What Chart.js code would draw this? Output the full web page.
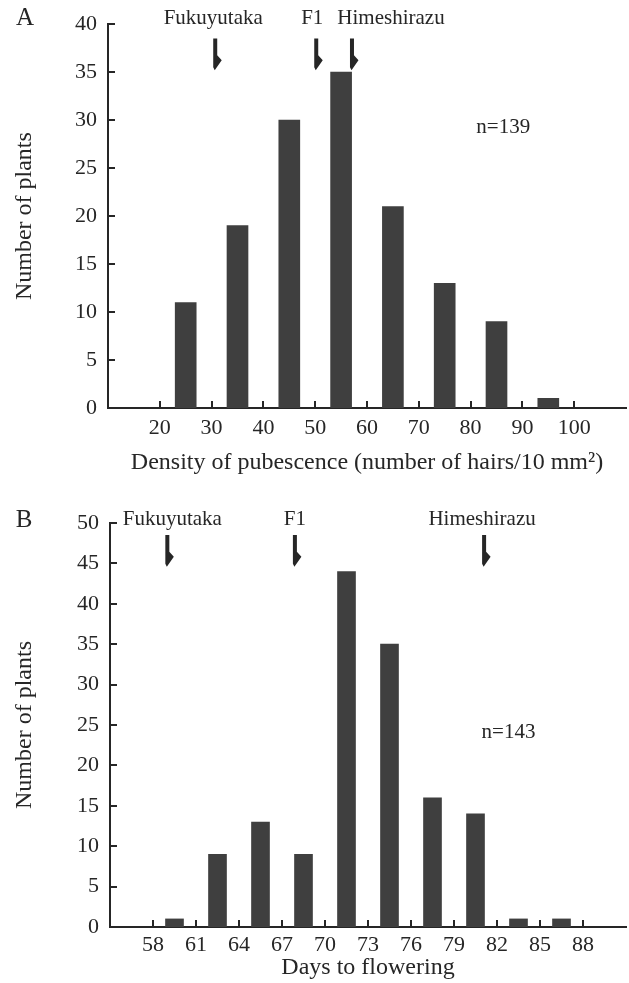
<!DOCTYPE html>
<html>
<head>
<meta charset="utf-8">
<script src="https://cdn.jsdelivr.net/npm/chart.js@4.4.1/dist/chart.umd.min.js"></script>
<style>
  html, body { margin: 0; padding: 0; background: #fff; }
  body { width: 629px; height: 983px; position: relative; overflow: hidden; }
  .panel { position: absolute; left: 0; width: 629px; }
  #wrapA { top: 0; height: 490px; }
  #wrapB { top: 490px; height: 493px; }
</style>
</head>
<body>
<div class="panel" id="wrapA"><canvas id="chartA"></canvas></div>
<div class="panel" id="wrapB"><canvas id="chartB"></canvas></div>
<script>
// --- A: densidad de pubescencia ---
const pubBins    = [25, 35, 45, 55, 65, 75, 85, 95];
const pubCounts  = [11, 19, 30, 35, 21, 13, 9, 1];
const pubTicks   = [20, 30, 40, 50, 60, 70, 80, 90, 100];
const pubParents = ['Fukuyutaka', 'F1', 'Himeshirazu'];
const pubParentValues = [30.7, 50.2, 57.1];
const pubN = 'n=139';

// --- B: días a floración ---
const dayBins    = [59.5, 62.5, 65.5, 68.5, 71.5, 74.5, 77.5, 80.5, 83.5, 86.5];
const dayCounts  = [1, 9, 13, 9, 44, 35, 16, 14, 1, 1];
const dayTicks   = [58, 61, 64, 67, 70, 73, 76, 79, 82, 85, 88];
const dayParents = ['Fukuyutaka', 'F1', 'Himeshirazu'];
const dayParentValues = [59.0, 67.9, 81.1];
const dayN = 'n=143';

const ink = '#262626';
const barFill = '#3f3f3f';
const serif = '"Liberation Serif", "DejaVu Serif", serif';

// ticks hacia adentro, flechas de los padres y textos sueltos
const marks = {
  id: 'marks',
  afterDraw(chart, args, o) {
    const { ctx, chartArea: a, scales: { x, y } } = chart;
    ctx.save();
    ctx.strokeStyle = ink;
    ctx.lineWidth = 2;
    ctx.beginPath();
    y.ticks.forEach(t => {
      const py = Math.round(y.getPixelForValue(t.value));
      ctx.moveTo(a.left, py); ctx.lineTo(a.left + 7, py);
    });
    x.ticks.forEach(t => {
      const px = Math.round(x.getPixelForValue(t.value));
      ctx.moveTo(px, a.bottom); ctx.lineTo(px, a.bottom - 7);
    });
    ctx.stroke();

    ctx.fillStyle = ink;
    const top = y.getPixelForValue(o.arrowTop);
    const tip = y.getPixelForValue(o.arrowTip);
    o.values.forEach(v => {
      const px = x.getPixelForValue(v);
      ctx.beginPath();
      ctx.moveTo(px - 2, top);
      ctx.lineTo(px + 2, top);
      ctx.lineTo(px + 2, tip - 14);
      ctx.lineTo(px + 6.5, tip - 9);
      ctx.lineTo(px - 0.5, tip + 1);
      ctx.lineTo(px - 2, tip - 2);
      ctx.closePath();
      ctx.fill();
    });

    ctx.font = '21px ' + serif;
    ctx.textAlign = 'center';
    ctx.textBaseline = 'middle';
    o.names.forEach((name, i) => {
      ctx.fillText(name, x.getPixelForValue(o.values[i]) + o.labelShift[i], o.labelY);
    });
    ctx.fillText(o.n, x.getPixelForValue(o.nAt[0]), y.getPixelForValue(o.nAt[1]));

    ctx.font = '25px ' + serif;
    ctx.fillText(o.letter, o.letterAt[0], o.letterAt[1]);
    ctx.restore();
  }
};

function makeChart(id, o) {
  return new Chart(document.getElementById(id), {
    type: 'bar',
    data: {
      datasets: [{
        data: o.bins.map((b, i) => ({ x: b, y: o.counts[i] })),
        backgroundColor: barFill,
        borderWidth: 0,
        barThickness: o.barPx
      }]
    },
    options: {
      responsive: true,
      maintainAspectRatio: false,
      animation: false,
      events: [],
      layout: { padding: { top: o.padTop, right: 3, left: 0, bottom: 0 } },
      plugins: {
        legend: { display: false },
        tooltip: { enabled: false },
        marks: o.marks
      },
      scales: {
        x: {
          type: 'linear',
          offset: false,
          min: o.xMin, max: o.xMax,
          afterBuildTicks: s => { s.ticks = o.ticks.map(v => ({ value: v })); },
          afterFit: s => { s.height = o.xAxisH; },
          grid: { display: false, drawTicks: false },
          border: { display: true, color: ink, width: 2 },
          ticks: { color: ink, font: { family: serif, size: 22 }, padding: o.xTickPad, maxRotation: 0, autoSkip: false },
          title: { display: true, text: o.xTitle, color: ink, font: { family: serif, size: 24, lineHeight: 1 }, padding: { top: 0, bottom: o.xTitlePad } }
        },
        y: {
          min: 0, max: o.yMax,
          afterFit: s => { s.width = o.yAxisW; },
          grid: { display: false, drawTicks: false },
          border: { display: true, color: ink, width: 2 },
          ticks: { stepSize: 5, color: ink, font: { family: serif, size: 22 }, padding: 11 },
          title: { display: true, text: 'Number of plants', color: ink, font: { family: serif, size: 24, lineHeight: 1 }, padding: { top: 13, bottom: 0 } }
        }
      }
    },
    plugins: [marks]
  });
}

makeChart('chartA', {
  bins: pubBins, counts: pubCounts, ticks: pubTicks,
  xMin: 10, xMax: 110, yMax: 40, barPx: 21,
  padTop: 23, xAxisH: 82, yAxisW: 108, xTickPad: 7, xTitlePad: 15,
  xTitle: 'Density of pubescence (number of hairs/10 mm\u00B2)',
  marks: {
    names: pubParents, values: pubParentValues, labelShift: [-2, -4, 39], labelY: 18,
    arrowTop: 38.5, arrowTip: 35.3, n: pubN, nAt: [86.3, 29.2],
    letter: 'A', letterAt: [25, 18]
  }
});

makeChart('chartB', {
  bins: dayBins, counts: dayCounts, ticks: dayTicks,
  xMin: 55, xMax: 91, yMax: 50, barPx: 18,
  padTop: 33, xAxisH: 56, yAxisW: 110, xTickPad: 5, xTitlePad: 3,
  xTitle: 'Days to flowering',
  marks: {
    names: dayParents, values: dayParentValues, labelShift: [5, 0, -2], labelY: 29,
    arrowTop: 48.5, arrowTip: 44.7, n: dayN, nAt: [82.8, 24.1],
    letter: 'B', letterAt: [24, 30]
  }
});
</script>
</body>
</html>
